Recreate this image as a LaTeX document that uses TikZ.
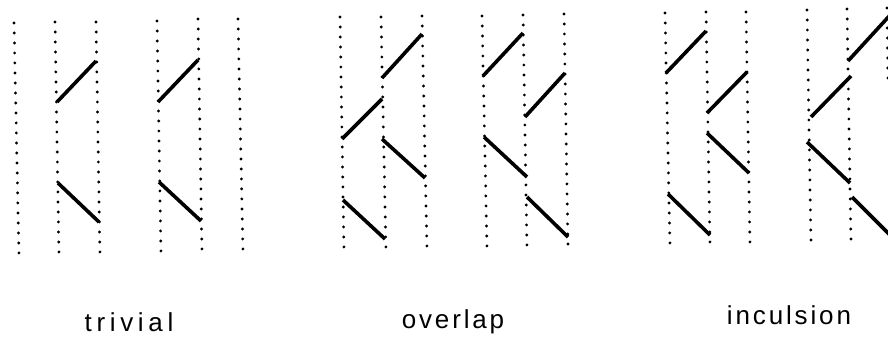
\documentclass[tikz,border=0pt]{standalone}
\usepackage{fontspec}
\setmainfont{Liberation Sans}
\begin{document}
\begin{tikzpicture}[x=1pt, y=-1pt,
    dotline/.style={line width=3.2pt, line cap=round, dash pattern=on 0pt off 10pt},  % dotted time lines
    seg/.style={line width=3.6pt},                                                   % solid strokes
    lab/.style={anchor=base, inner sep=0pt, font=\fontsize{26}{26}\selectfont}]     % captions
  \useasboundingbox (0,0) rectangle (888,338);
  \clip (0,0) rectangle (888,338);
  % dotted lines: top x / top y / bottom x / bottom y
  \foreach \xa/\ya/\xb/\yb in {14/23/19/257, 55/22/59/257, 96/22/100/257,
      157/21/161/256, 198/19/202/255, 238/19/243/254,
      340/17/344/252, 381/17/386/252, 422/16/427/251,
      482/16/487/250, 523/15/527/250, 564/14/568/248,
      665/13/670/248, 706/12/710/247, 746/12/750/247,
      807/10/811/245, 847/9/851/244, 887/8/888/82}
    \draw[dotline] (\xa,\ya) -- (\xb,\yb);
  % trivial
  \draw[seg] (57,102) -- (96,61);
  \draw[seg] (58,183) -- (99,222);
  \draw[seg] (158,102) -- (198,60);
  \draw[seg] (159,182) -- (201,221);
  % overlap
  \draw[seg] (342,139) -- (382,99);
  \draw[seg] (382,78) -- (422,34);
  \draw[seg] (343,200) -- (385,239);
  \draw[seg] (382,139) -- (425,178);
  \draw[seg] (483,76) -- (523,33);
  \draw[seg] (525,117) -- (565,73);
  \draw[seg] (484,137) -- (527,177);
  \draw[seg] (527,197) -- (568,237);
  % inculsion
  \draw[seg] (666,73) -- (706,31);
  \draw[seg] (707,113) -- (747,72);
  \draw[seg] (707,133) -- (749,173);
  \draw[seg] (668,194) -- (710,235);
  \draw[seg] (848,61) -- (892,13);
  \draw[seg] (811,117) -- (851,76);
  \draw[seg] (807,142) -- (850,183);
  \draw[seg] (852,197) -- (892,237);
  % captions
  \node[lab] (trivial) at (129,331) {\addfontfeature{LetterSpace=18}trivial};
  \node[lab] (overlap) at (453,328) {\addfontfeature{LetterSpace=11}overlap};
  \node[lab] (inculsion) at (789,324) {\addfontfeature{LetterSpace=11}inculsion};
\end{tikzpicture}
\end{document}
